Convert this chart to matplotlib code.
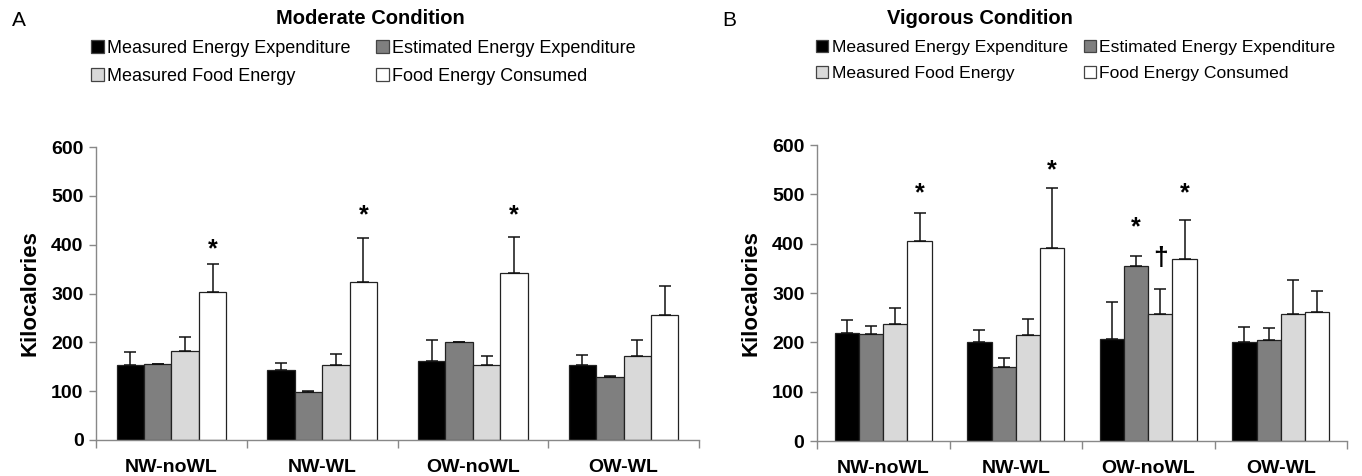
import matplotlib
matplotlib.use("Agg")
import matplotlib.pyplot as plt
from matplotlib.patches import Patch
import numpy as np

plt.rcParams['font.family'] = ['Liberation Sans', 'DejaVu Sans']

groups = ["NW-noWL", "NW-WL", "OW-noWL", "OW-WL"]
series = ["Measured Energy Expenditure", "Estimated Energy Expenditure",
          "Measured Food Energy", "Food Energy Consumed"]

# Moderate condition (panel A): means and upper error (top of error bar)
mod_means = {
    "Measured Energy Expenditure": [153, 143, 162, 154],
    "Estimated Energy Expenditure": [155, 99, 200, 130],
    "Measured Food Energy": [182, 154, 154, 171],
    "Food Energy Consumed": [303, 324, 341, 255],
}
mod_err = {
    "Measured Energy Expenditure": [28, 15, 42, 20],
    "Estimated Energy Expenditure": [1, 1, 1, 1],
    "Measured Food Energy": [29, 23, 17, 33],
    "Food Energy Consumed": [58, 90, 75, 60],
}
# Vigorous condition (panel B)
vig_means = {
    "Measured Energy Expenditure": [218, 201, 206, 200],
    "Estimated Energy Expenditure": [216, 149, 355, 205],
    "Measured Food Energy": [237, 214, 258, 257],
    "Food Energy Consumed": [405, 392, 368, 261],
}
vig_err = {
    "Measured Energy Expenditure": [27, 23, 76, 32],
    "Estimated Energy Expenditure": [17, 19, 21, 25],
    "Measured Food Energy": [32, 33, 51, 69],
    "Food Energy Consumed": [58, 120, 79, 43],
}
# significance markers: (group index, series index, y, symbol)
mod_marks = [(0, 3, 391, "*"), (1, 3, 460, "*"), (2, 3, 460, "*")]
vig_marks = [(0, 3, 502, "*"), (1, 3, 549, "*"), (2, 1, 433, "*"),
             (2, 2, 370, "\u2020"), (2, 3, 502, "*")]

colors = ["#000000", "#7f7f7f", "#d9d9d9", "#ffffff"]
yticks = [0, 100, 200, 300, 400, 500, 600]

W, H = 1362, 476
fig = plt.figure(figsize=(W / 100, H / 100), dpi=100)


def px_axes(x0, y0, x1, y1):
    return fig.add_axes([x0 / W, 1 - y1 / H, (x1 - x0) / W, (y1 - y0) / H])


def draw_panel(ax, means, errs, marks, barw):
    x = np.arange(len(groups))
    for i, s in enumerate(series):
        pos = x + (i - 1.5) * barw
        ax.bar(pos, means[s], width=barw, color=colors[i], edgecolor="#222222",
               linewidth=0.9, zorder=2)
        ax.errorbar(pos, means[s], yerr=[np.zeros(len(groups)), errs[s]],
                    fmt="none", ecolor="#111111", elinewidth=1.1, capsize=4,
                    capthick=1.1, zorder=3)
    for g, si, yv, sym in marks:
        ax.text(g + (si - 1.5) * barw, yv, sym, ha="center", va="center",
                fontsize=18 if sym == "*" else 19, fontweight="bold")
    ax.set_xlim(-0.5, len(groups) - 0.5)
    ax.set_ylim(0, 600)
    ax.set_yticks(yticks)
    ax.set_yticklabels([str(v) for v in yticks], fontsize=14, fontweight="bold")
    ax.set_xticks(x)
    ax.set_xticklabels(groups, fontsize=14, fontweight="bold")
    ax.tick_params(axis="x", which="major", length=0, pad=14)
    ax.set_xticks(np.arange(-0.5, len(groups), 1.0), minor=True)
    ax.tick_params(axis="x", which="minor", length=6, color="#888888", width=1)
    ax.tick_params(axis="y", length=5, color="#888888", width=1, pad=4)
    for sp in ["top", "right"]:
        ax.spines[sp].set_visible(False)
    for sp in ["left", "bottom"]:
        ax.spines[sp].set_color("#888888")
        ax.spines[sp].set_linewidth(1.0)
    ax.set_ylabel("Kilocalories", fontsize=16, fontweight="bold", labelpad=8)


axA = px_axes(96, 147, 699, 440)
draw_panel(axA, mod_means, mod_err, mod_marks, 0.182)
axB = px_axes(817, 145, 1347, 441)
draw_panel(axB, vig_means, vig_err, vig_marks, 0.183)

fig.text(12 / W, 1 - 20 / H, "A", fontsize=15, ha="left", va="center")
fig.text(722 / W, 1 - 20 / H, "B", fontsize=15, ha="left", va="center")
fig.text(370 / W, 1 - 18 / H, "Moderate Condition", fontsize=14.5,
         fontweight="bold", ha="center", va="center")
fig.text(980 / W, 1 - 18 / H, "Vigorous Condition", fontsize=14.5,
         fontweight="bold", ha="center", va="center")

handles = [Patch(facecolor=c, edgecolor="#444444", linewidth=0.9) for c in colors]
order = [0, 2, 1, 3]
for (lx, ly, cs, fs) in [(91, 40, 1.4, 13), (816, 40, 0.9, 12.6)]:
    fig.legend([handles[i] for i in order], [series[i] for i in order],
               loc="upper left", bbox_to_anchor=(lx / W, 1 - ly / H),
               ncol=2, frameon=False, fontsize=fs, handlelength=0.7,
               handleheight=0.7, handletextpad=0.2, columnspacing=cs,
               labelspacing=0.6, borderaxespad=0, borderpad=0)

fig.savefig("out.png", dpi=100)
